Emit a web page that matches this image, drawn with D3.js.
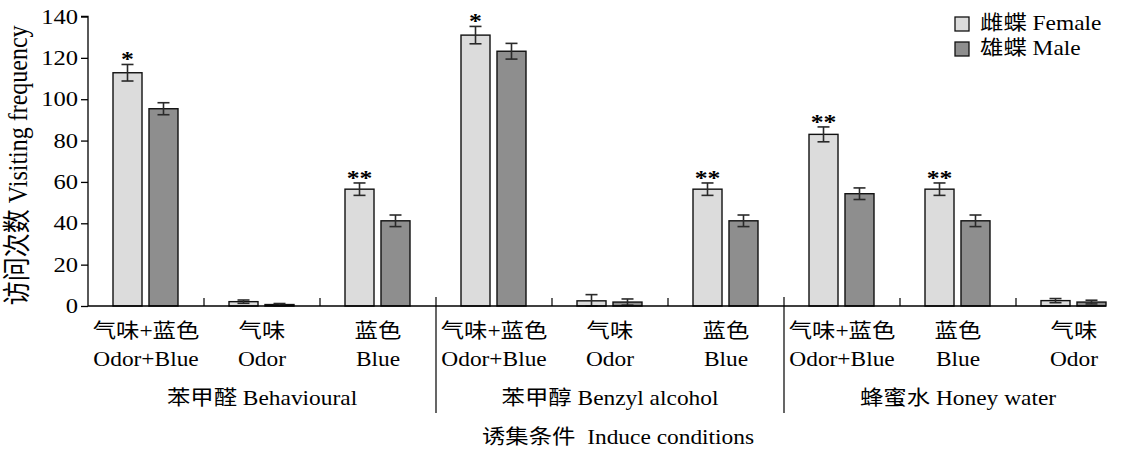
<!DOCTYPE html>
<html>
<head>
<meta charset="utf-8">
<script src="https://cdn.jsdelivr.net/npm/d3@7"></script>
<style>
  html, body { margin: 0; padding: 0; background: #fff; }
  svg { display: block; }
  text { font-family: "Liberation Serif", serif; fill: #000; }
  tspan.cjk { font-family: "Noto Sans CJK SC", sans-serif; }
  tspan.lat { font-family: "Liberation Serif", serif; }
</style>
</head>
<body>
<svg id="chart" width="1132" height="452"></svg>
<script>
// Lure conditions, three groups of three treatments each
const groupNames = ["苯甲醛 Behavioural", "苯甲醇 Benzyl alcohol", "蜂蜜水 Honey water"];
const categoryCn = ["气味+蓝色", "气味", "蓝色", "气味+蓝色", "气味", "蓝色", "气味+蓝色", "蓝色", "气味"];
const categoryEn = ["Odor+Blue", "Odor", "Blue", "Odor+Blue", "Odor", "Blue", "Odor+Blue", "Blue", "Odor"];

// Mean visiting frequency and standard error
const femaleMean = [112.8, 2.1, 56.5, 131.0, 2.5, 56.5, 83.0, 56.5, 2.6];
const femaleSE   = [4.0, 0.8, 3.0, 4.2, 3.0, 3.0, 3.6, 3.0, 1.0];
const maleMean   = [95.4, 0.7, 41.2, 123.2, 1.9, 41.2, 54.3, 41.2, 1.9];
const maleSE     = [2.9, 0.5, 2.8, 3.8, 1.5, 2.8, 2.8, 2.8, 0.9];
const femaleSig  = ["*", "", "**", "*", "", "**", "**", "**", ""];

const sexKeys = ["female", "male"];
const legendLabels = ["雌蝶 Female", "雄蝶 Male"];
const yTicks = [0, 20, 40, 60, 80, 100, 120, 140];
const yTitle = "访问次数 Visiting frequency";
const xTitle = "诱集条件\u00a0 Induce conditions";

const SX = 1.17;           // horizontal text stretch
const fills = { female: "#dcdcdc", male: "#8e8e8e" };

const svg = d3.select("#chart");

const x0 = 88, slot = 116;
const x = d3.scaleBand()
  .domain(d3.range(categoryCn.length))
  .range([x0, x0 + slot * categoryCn.length])
  .paddingInner(0).paddingOuter(0);
const xs = d3.scaleBand()
  .domain(sexKeys)
  .range([25, 90])
  .paddingInner(0.194).paddingOuter(0);
const y = d3.scaleLinear().domain([0, 140]).range([306, 16.5]);

// split mixed strings so CJK and Latin runs get their own font
function fillRuns(t, str) {
  str.split(/([\u2E80-\u9FFF\uFF00-\uFFEF]+)/).filter(s => s.length).forEach(s => {
    t.append("tspan")
      .attr("class", /[\u2E80-\u9FFF\uFF00-\uFFEF]/.test(s) ? "cjk" : "lat")
      .text(s);
  });
  return t;
}

function stext(g, px, py, str, anchor, size) {
  const t = g.append("text")
    .attr("transform", `translate(${px},${py}) scale(${SX},1)`)
    .attr("text-anchor", anchor || "middle")
    .style("font-size", (size || 20) + "px");
  return fillRuns(t, str);
}

const rows = d3.range(categoryCn.length).map(i => [
  { i, key: "female", v: femaleMean[i], se: femaleSE[i], sig: femaleSig[i] },
  { i, key: "male", v: maleMean[i], se: maleSE[i], sig: "" }
]).flat();

// bars
svg.append("g").selectAll("rect").data(rows).join("rect")
  .attr("x", d => x(d.i) + xs(d.key))
  .attr("y", d => y(d.v))
  .attr("width", xs.bandwidth())
  .attr("height", d => y(0) - y(d.v))
  .attr("fill", d => fills[d.key])
  .attr("stroke", "#111")
  .attr("stroke-width", 1.4);

// error bars
const eb = svg.append("g").attr("stroke", "#2a2a2a").attr("stroke-width", 1.6).attr("fill", "none");
rows.forEach(d => {
  const cx = x(d.i) + xs(d.key) + xs.bandwidth() / 2;
  const top = y(d.v + d.se), bot = y(Math.max(0, d.v - d.se));
  eb.append("line").attr("x1", cx).attr("x2", cx).attr("y1", top).attr("y2", bot);
  eb.append("line").attr("x1", cx - 6).attr("x2", cx + 6).attr("y1", top).attr("y2", top);
  eb.append("line").attr("x1", cx - 6).attr("x2", cx + 6).attr("y1", bot).attr("y2", bot);
});

// significance marks
const sigG = svg.append("g");
rows.filter(d => d.sig).forEach(d => {
  const cx = x(d.i) + xs(d.key) + xs.bandwidth() / 2;
  stext(sigG, cx, y(d.v + d.se) + 2, d.sig, "middle", 22).style("font-weight", "bold");
});

// y axis
const yAxis = d3.axisLeft(y).tickValues(yTicks).tickSize(7).tickFormat("");
const ya = svg.append("g").attr("transform", `translate(${x0},0)`).call(yAxis);
ya.selectAll("path, line").attr("stroke", "#000").attr("stroke-width", 1.3);
ya.select(".domain").attr("d", `M-7,${y(140)}H0V${y(0)}`);
const ylab = svg.append("g");
yTicks.forEach(t => stext(ylab, 78, y(t) + 7, String(t), "end", 21));

fillRuns(svg.append("text")
  .attr("transform", `translate(27,${(y(0) + y(140)) / 2 + 4}) rotate(-90) scale(1,${SX})`)
  .attr("text-anchor", "middle")
  .style("font-size", "24px"), yTitle);

// x axis baseline
const lastRight = x(categoryCn.length - 1) + xs("male") + xs.bandwidth();
svg.append("line")
  .attr("x1", x0).attr("x2", lastRight)
  .attr("y1", y(0)).attr("y2", y(0))
  .attr("stroke", "#000").attr("stroke-width", 1.3);

// ticks between treatments and separators between groups
const bounds = d3.range(1, categoryCn.length);
svg.append("g").selectAll("line").data(bounds).join("line")
  .attr("x1", b => x(b)).attr("x2", b => x(b))
  .attr("y1", b => b % 3 === 0 ? y(0) - 9 : y(0) - 8)
  .attr("y2", b => b % 3 === 0 ? 413 : y(0))
  .attr("stroke", "#000").attr("stroke-width", 1.2);

// category labels
const catG = svg.append("g");
d3.range(categoryCn.length).forEach(i => {
  const cx = x(i) + slot / 2;
  stext(catG, cx, 338, categoryCn[i], "middle", 20);
  stext(catG, cx, 366, categoryEn[i], "middle", 20);
});

// group labels
const grpG = svg.append("g");
groupNames.forEach((g, k) => {
  const cx = x(k * 3) + slot * 1.5;
  stext(grpG, cx, 405, g, "middle", 20);
});

// axis title
stext(svg, (x0 + x0 + slot * 9) / 2 + 8, 444, xTitle, "middle", 20);

// legend
const lg = svg.append("g");
sexKeys.forEach((k, j) => {
  lg.append("rect")
    .attr("x", 955).attr("y", 17 + j * 25)
    .attr("width", 14).attr("height", 14)
    .attr("fill", fills[k]).attr("stroke", "#111").attr("stroke-width", 1.3);
  stext(lg, 980, 30 + j * 25, legendLabels[j], "start", 20);
});
</script>
</body>
</html>
